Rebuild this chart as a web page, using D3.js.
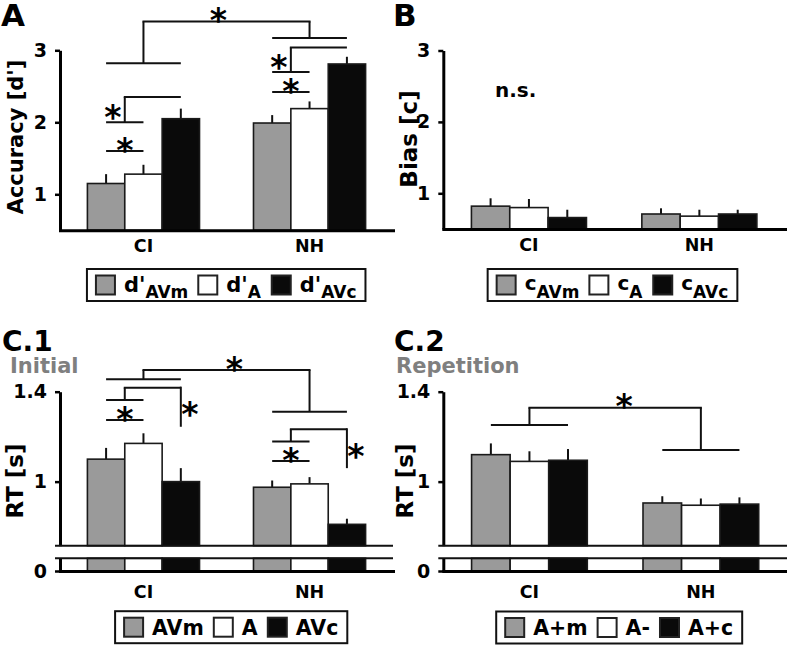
<!DOCTYPE html>
<html>
<head>
<meta charset="utf-8">
<script src="https://cdn.jsdelivr.net/npm/d3@7"></script>
<style>
body { margin: 0; background: #fff; }
svg { display: block; font-family: "DejaVu Sans", Verdana, sans-serif; font-weight: bold; }
</style>
</head>
<body>
<svg id="fig" width="787" height="647"></svg>
<script>
var groups = ["CI", "NH"];
var fills = ["#9a9a9a", "#ffffff", "#0a0a0a"];

// A: accuracy d'
var accMean = [[1.15, 1.28, 2.05], [1.99, 2.19, 2.81]];
var accErr = [[0.13, 0.13, 0.14], [0.11, 0.10, 0.10]];
var accTicks = [1, 2, 3];
var accLegend = [["d'", "AVm"], ["d'", "A"], ["d'", "AVc"]];

// B: bias c
var biasMean = [[0.82, 0.80, 0.66], [0.71, 0.68, 0.71]];
var biasErr = [[0.11, 0.12, 0.11], [0.08, 0.09, 0.06]];
var biasTicks = [1, 2, 3];
var biasLegend = [["c", "AVm"], ["c", "A"], ["c", "AVc"]];

// C.1 / C.2: reaction times
var rtInitMean = [[1.10, 1.17, 1.00], [0.975, 0.99, 0.81]];
var rtInitErr = [[0.05, 0.045, 0.06], [0.03, 0.03, 0.025]];
var rtRepMean = [[1.12, 1.09, 1.095], [0.905, 0.895, 0.90]];
var rtRepErr = [[0.05, 0.045, 0.05], [0.03, 0.03, 0.03]];
var rtTicks = [1, 1.4];
var rtInitLegend = [["AVm"], ["A"], ["AVc"]];
var rtRepLegend = [["A+m"], ["A-"], ["A+c"]];

// significance brackets, y in data units
var accSig = [
    {type: "pair", g: 0, y: 1.6},
    {type: "nested", g: 0, y1: 2.0, y2: 2.35},
    {type: "pair", g: 1, y: 2.42},
    {type: "nested", g: 1, y1: 2.70, y2: 3.04},
    {type: "groups", y0: 2.82, yTop: 3.40, y1: 3.17, dx: -8}
];
var rtInitSig = [
    {type: "pair", g: 0, y: 1.274},
    {type: "nested", g: 0, y1: 1.363, y2: 1.418, yEnd: 1.244},
    {type: "pair", g: 1, y: 1.092},
    {type: "nested", g: 1, y1: 1.178, y2: 1.233, yEnd: 1.06},
    {type: "groups", y0: 1.455, yTop: 1.496, y1: 1.311, dx: 8}
];
var rtRepSig = [
    {type: "groups", y0: 1.252, yTop: 1.329, y1: 1.141, dx: 9}
];

var svg = d3.select("#fig");
var fontFam = "DejaVu Sans, Verdana, sans-serif";

function hline(g, x1, x2, y, w) {
    g.append("line").attr("x1", x1).attr("x2", x2).attr("y1", y).attr("y2", y)
        .attr("stroke", "#111").attr("stroke-width", w || 2);
}

function vline(g, x, y1, y2, w) {
    g.append("line").attr("x1", x).attr("x2", x).attr("y1", y1).attr("y2", y2)
        .attr("stroke", "#111").attr("stroke-width", w || 2);
}

function star(g, x, y) {
    g.append("text").attr("x", x).attr("y", y + 19).attr("text-anchor", "middle")
        .attr("font-size", 33).text("*");
}

function styleAxis(a, size) {
    a.attr("font-family", fontFam).attr("font-size", size).attr("font-weight", "bold");
    a.select(".domain").attr("stroke-width", 3);
    a.selectAll(".tick line").attr("stroke-width", 2.5);
}

function drawPanel(p) {
    var g = svg.append("g");
    var x = d3.scaleBand().domain(groups).range([p.left, p.right])
        .paddingInner(0.325).paddingOuter(0.165);
    var xs = d3.scaleBand().domain(d3.range(3)).range([0, x.bandwidth()]);
    var y = d3.scaleLinear().domain(p.domain).range([p.bottom, p.top]);
    var cx = function(gi, si) { return x(groups[gi]) + xs(si) + xs.bandwidth() / 2; };
    var gc = function(gi) { return x(groups[gi]) + x.bandwidth() / 2; };

    var rows = [];
    p.mean.forEach(function(r, gi) {
        r.forEach(function(v, si) { rows.push({gi: gi, si: si, v: v, e: p.err[gi][si]}); });
    });

    g.selectAll(".err").data(rows).enter().append("line")
        .attr("x1", function(d) { return cx(d.gi, d.si); })
        .attr("x2", function(d) { return cx(d.gi, d.si); })
        .attr("y1", function(d) { return y(d.v); })
        .attr("y2", function(d) { return y(d.v + d.e); })
        .attr("stroke", "#111").attr("stroke-width", 2);

    g.selectAll(".bar").data(rows).enter().append("rect")
        .attr("x", function(d) { return x(groups[d.gi]) + xs(d.si); })
        .attr("width", xs.bandwidth())
        .attr("y", function(d) { return y(d.v); })
        .attr("height", function(d) { return y(p.domain[0]) - y(d.v); })
        .attr("fill", function(d) { return fills[d.si]; })
        .attr("stroke", "#1a1a1a").attr("stroke-width", 1.6);

    var yAxis = d3.axisLeft(y).tickValues(p.ticks).tickSize(5).tickPadding(8).tickSizeOuter(0)
        .tickFormat(function(d) { return d; });
    var ya = g.append("g").attr("transform", "translate(" + p.left + ",0)").call(yAxis);
    styleAxis(ya, 19);

    var axisY = p.bottom;
    if (p.strip) {
        var sTop = 0.05;
        var ys = d3.scaleLinear().domain([0, sTop]).range([p.strip[1], p.strip[0]]);
        g.selectAll(".sbar").data(rows).enter().append("rect")
            .attr("x", function(d) { return x(groups[d.gi]) + xs(d.si); })
            .attr("width", xs.bandwidth())
            .attr("y", function(d) { return ys(Math.min(d.v, sTop)); })
            .attr("height", function(d) { return ys(0) - ys(Math.min(d.v, sTop)); })
            .attr("fill", function(d) { return fills[d.si]; })
            .attr("stroke", "#1a1a1a").attr("stroke-width", 1.6);
        hline(g, p.left - 5, p.right, p.bottom, 2);
        hline(g, p.left - 5, p.right, p.strip[0], 2);
        var sa = g.append("g").attr("transform", "translate(" + p.left + ",0)")
            .call(d3.axisLeft(ys).tickValues([0]).tickSize(5).tickPadding(8).tickSizeOuter(0)
                .tickFormat(function(d) { return d; }));
        styleAxis(sa, 19);
        axisY = p.strip[1];
    }

    var xa = g.append("g").attr("transform", "translate(0," + axisY + ")")
        .call(d3.axisBottom(x).tickSize(0).tickPadding(p.catPad).tickSizeOuter(0));
    styleAxis(xa, 17.5);
    xa.select(".domain").attr("stroke-linecap", "square");

    // significance marks
    p.sig.forEach(function(s) {
        if (s.type == "pair") {
            var a = cx(s.g, 0), b = cx(s.g, 1);
            hline(g, a, b, y(s.y));
            star(g, (a + b) / 2, y(s.y) - 8);
        } else if (s.type == "nested") {
            var a = cx(s.g, 0), b = cx(s.g, 1), c = cx(s.g, 2), m = (a + b) / 2;
            hline(g, a, b, y(s.y1));
            vline(g, m, y(s.y1), y(s.y2));
            hline(g, m - 1, c, y(s.y2));
            if (s.yEnd !== undefined) {
                vline(g, c, y(s.y2) - 1, y(s.yEnd));
                star(g, c + 9, (y(s.y2) + y(s.yEnd)) / 2);
            } else {
                star(g, m - 12, (y(s.y1) + y(s.y2)) / 2);
            }
        } else {
            var m0 = gc(0), m1 = gc(1);
            hline(g, cx(0, 0), cx(0, 2), y(s.y0));
            vline(g, m0, y(s.y0), y(s.yTop));
            hline(g, m0 - 1, m1 + 1, y(s.yTop));
            vline(g, m1, y(s.yTop), y(s.y1));
            hline(g, cx(1, 0), cx(1, 2), y(s.y1));
            star(g, (m0 + m1) / 2 + s.dx, y(s.yTop) - 8.5);
        }
    });

    if (p.ns) {
        g.append("text").attr("x", x(groups[p.ns.g]) + x.bandwidth() * 0.205).attr("y", y(p.ns.y))
            .attr("font-size", 20).text("n.s.");
    }

    // y title
    g.append("text").attr("transform", "translate(" + p.titleX + "," + p.titleY + ") rotate(-90)")
        .attr("text-anchor", "middle").attr("font-size", p.titleSize).text(p.title);

    // panel label and subtitle
    g.append("text").attr("x", p.label[0]).attr("y", p.label[1]).attr("font-size", p.label[2]).text(p.label[3]);
    if (p.sub) {
        g.append("text").attr("x", p.sub[0]).attr("y", p.sub[1]).attr("font-size", 21)
            .attr("fill", "#7f7f7f").text(p.sub[2]);
    }

    drawLegend(g, p.legend, p.legendAt[0], p.legendAt[1], p.legendOpt);
}

function drawLegend(g, items, cxC, cyC, opt) {
    var lg = g.append("g");
    var box = lg.append("rect");
    var xCur = 0;
    items.forEach(function(it, i) {
        lg.append("rect").attr("x", xCur).attr("y", -9.5).attr("width", 19).attr("height", 19)
            .attr("fill", fills[i]).attr("stroke", "#222").attr("stroke-width", 2);
        xCur += 19 + 9;
        var t = lg.append("text").attr("x", xCur).attr("y", opt.base);
        t.append("tspan").attr("font-size", opt.main).text(it[0]);
        if (it.length > 1) t.append("tspan").attr("font-size", opt.sub).attr("dy", opt.dy).text(it[1]);
        xCur += t.node().getBBox().width + 10;
    });
    var w = xCur - 10;
    box.attr("x", -9).attr("y", -16).attr("width", w + 18).attr("height", 32)
        .attr("fill", "#fff").attr("stroke", "#111").attr("stroke-width", 2);
    lg.attr("transform", "translate(" + (cxC - w / 2) + "," + cyC + ")");
}

drawPanel({
    left: 60, right: 393, top: 50.3, bottom: 230.3, domain: [0.5, 3],
    mean: accMean, err: accErr, ticks: accTicks, sig: accSig, catPad: 9,
    title: "Accuracy [d']", titleSize: 21, titleX: 22.7, titleY: 137,
    label: [1, 26, 31, "A"],
    legend: accLegend, legendAt: [226.2, 285],
    legendOpt: {main: 21, sub: 17, dy: 6, base: 6.7}
});

drawPanel({
    left: 443.3, right: 785, top: 50.5, bottom: 229, domain: [0.5, 3],
    mean: biasMean, err: biasErr, ticks: biasTicks, sig: [], catPad: 10,
    ns: {g: 0, y: 2.35},
    title: "Bias [c]", titleSize: 23, titleX: 417, titleY: 139,
    label: [393, 26, 31, "B"],
    legend: biasLegend, legendAt: [612.5, 285],
    legendOpt: {main: 20, sub: 17, dy: 8, base: 5}
});

drawPanel({
    left: 60, right: 393, top: 391.7, bottom: 545.7, domain: [0.715, 1.4],
    strip: [558.3, 571], catPad: 15,
    mean: rtInitMean, err: rtInitErr, ticks: rtTicks, sig: rtInitSig,
    title: "RT [s]", titleSize: 23, titleX: 22.5, titleY: 481,
    label: [2, 351, 28, "C.1"], sub: [10, 373, "Initial"],
    legend: rtInitLegend, legendAt: [231.2, 627.2],
    legendOpt: {main: 20.5, sub: 17, dy: 6, base: 7.5}
});

drawPanel({
    left: 443.3, right: 787, top: 391.7, bottom: 545.7, domain: [0.715, 1.4],
    strip: [558.3, 571], catPad: 15,
    mean: rtRepMean, err: rtRepErr, ticks: rtTicks, sig: rtRepSig,
    title: "RT [s]", titleSize: 23, titleX: 413, titleY: 481,
    label: [394, 351, 28, "C.2"], sub: [396, 373, "Repetition"],
    legend: rtRepLegend, legendAt: [619.2, 627.5],
    legendOpt: {main: 20.5, sub: 17, dy: 6, base: 7.5}
});
</script>
</body>
</html>
